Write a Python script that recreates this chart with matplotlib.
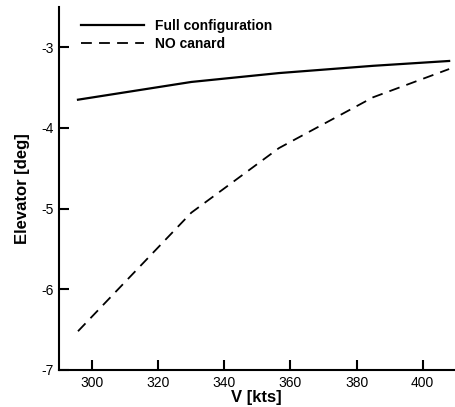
import matplotlib.pyplot as plt
import numpy as np

plt.rcParams['font.family'] = ['Liberation Sans', 'DejaVu Sans']
plt.rcParams['axes.unicode_minus'] = False

# speed [kts]
v = [295.7, 330, 356.5, 385, 408]
full_config = [-3.65, -3.43, -3.32, -3.23, -3.17]
no_canard = [-6.52, -5.05, -4.25, -3.62, -3.27]

xticks = [300, 320, 340, 360, 380, 400]
yticks = [-7, -6, -5, -4, -3]

fig = plt.figure(figsize=(4.55, 4.07), dpi=100)
ax = fig.add_axes([0.13, 0.091, 0.868, 0.892])

ax.plot(v, full_config, color='black', lw=1.6, label='Full configuration')
ax.plot(v, no_canard, color='black', lw=1.3, ls=(0, (6, 4)), label='NO canard')

ax.set_xlim(290, 409.5)
ax.set_ylim(-7, -2.5)
ax.set_xticks(xticks)
ax.set_yticks(yticks)
ax.tick_params(direction='in', length=7, width=1.5, labelsize=10, pad=4)
for s in ['top', 'right']:
    ax.spines[s].set_visible(False)
for s in ['left', 'bottom']:
    ax.spines[s].set_linewidth(1.5)

ax.set_xlabel('V [kts]', fontsize=12, fontweight='bold', labelpad=0)
ax.set_ylabel('Elevator [deg]', fontsize=12, fontweight='bold', labelpad=8)

leg = ax.legend(loc='upper left', frameon=False, prop={'weight': 'bold', 'size': 10},
                handlelength=4.5, borderaxespad=0.2, labelspacing=0.3,
                bbox_to_anchor=(0.035, 0.99))

fig.savefig('out.png', dpi=100)
